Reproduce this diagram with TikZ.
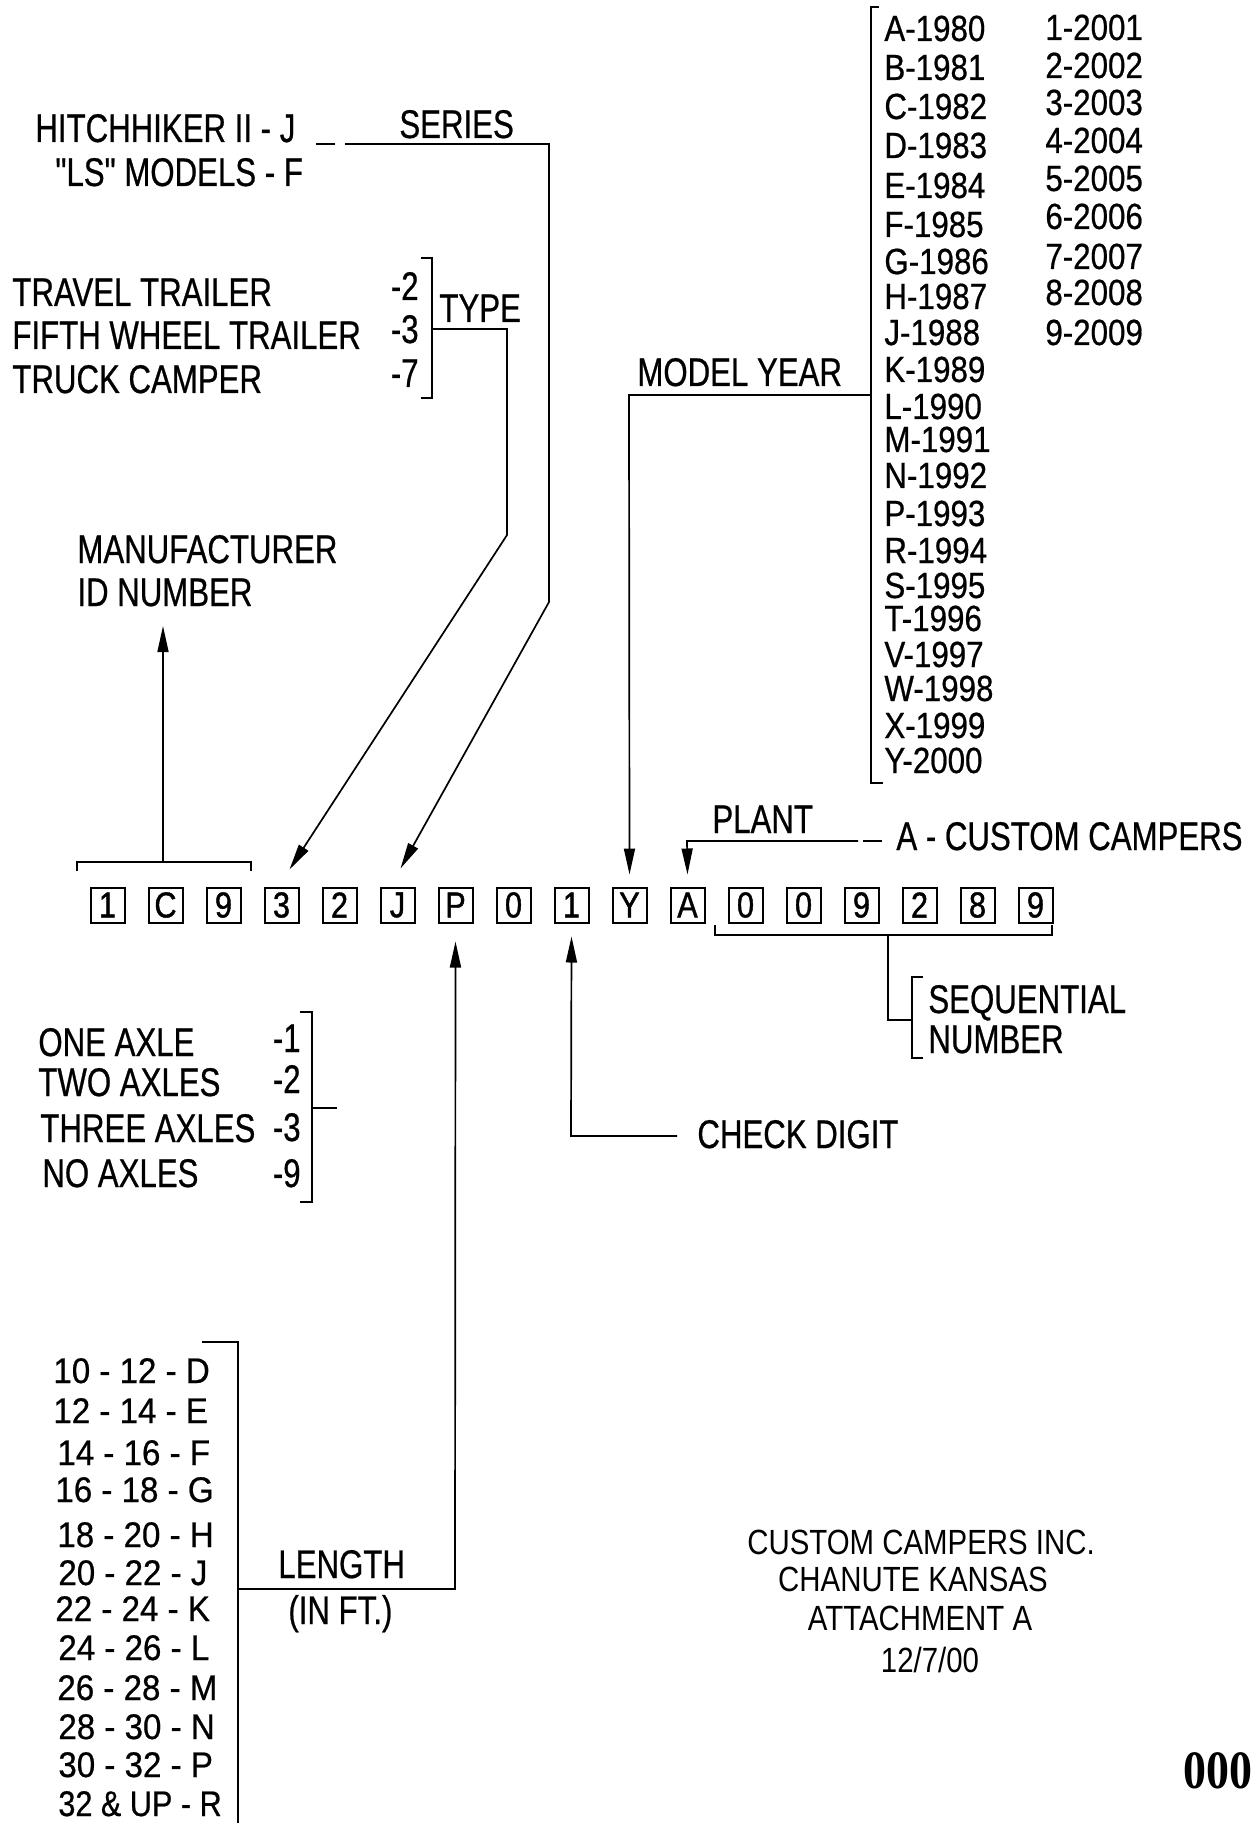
\documentclass[tikz,border=0pt]{standalone}
\usepackage{fontspec}
\setmainfont{Liberation Sans}
\newfontfamily\narrowsans{Liberation Sans}[FakeStretch=0.78,FakeBold=0.6]
\newfontfamily\yearsans{Liberation Sans}[FakeStretch=0.86,FakeBold=0.6]
\newfontfamily\lensans{Liberation Sans}[FakeStretch=0.93,FakeBold=0.6]
\newfontfamily\lensansn{Liberation Sans}[FakeStretch=0.86,FakeBold=0.6]
\newfontfamily\boxsans{Liberation Sans}[FakeStretch=0.85,FakeBold=1.2]
\newfontfamily\footsans{Liberation Sans}[FakeStretch=0.84]
\newfontfamily\stampserif{Liberation Serif}[FakeStretch=0.85]
\usetikzlibrary{arrows.meta}
\tikzset{
  lbl/.style={inner sep=0pt, anchor=base west, font=\narrowsans\fontsize{20}{22}\selectfont},
  lblr/.style={lbl, anchor=base east},
  yearlbl/.style={inner sep=0pt, anchor=base west, font=\yearsans\fontsize{18.2}{20}\selectfont},
  lenlbl/.style={inner sep=0pt, anchor=base west, font=\lensans\fontsize{17.8}{20}\selectfont},
  foot/.style={inner sep=0pt, anchor=base, font=\footsans\fontsize{17.5}{19}\selectfont},
  vinbox/.style={draw, line width=1pt, minimum width=17pt, minimum height=17.5pt, inner sep=0pt, font=\boxsans\fontsize{18}{18}\selectfont},
  conn/.style={line width=0.85pt},
  arr/.style={conn, -{Triangle[length=13pt,width=5.5pt]}},
}
\begin{document}
\begin{tikzpicture}[x=0.5pt,y=-0.5pt]
\fill[white] (0,0) rectangle (1259,1823);
\useasboundingbox (0,0) rectangle (1259,1823);

% VIN boxes
\foreach \ch [count=\i from 0] in {1,C,9,3,2,J,P,0,1,Y,A,0,0,9,2,8,9}
  \node[vinbox] (b\i) at ({107.5+58*\i},905) {\ch};

% ---- Series ----
\node[lbl] (hh) at (35,142) {HITCHHIKER II - J};
\node[lbl] (ls) at (55,186) {"LS" MODELS - F};
\node[lbl] (series) at (399,138) {SERIES};
\coordinate (sd1) at (316,144); \coordinate (sd2) at (335,144);
\draw[conn] (sd1) -- (sd2);
\coordinate (s0) at (345,144); \coordinate (s1) at (549,144); \coordinate (s2) at (549,602);
\draw[arr] (s0) -- (s1) -- (s2) -- ([xshift=1.5pt,yshift=9pt]b5.north);

% ---- Type ----
\node[lbl] (tt) at (12,306) {TRAVEL TRAILER};
\node[lbl] (fw) at (12,349) {FIFTH WHEEL TRAILER};
\node[lbl] (tc) at (12,393) {TRUCK CAMPER};
\node[lblr] (t2) at (419,300) {-2};
\node[lblr] (t3) at (419,343) {-3};
\node[lblr] (t7) at (419,387) {-7};
\node[lbl] (type) at (439,322) {TYPE};
\draw[conn] (421,258) -- (432,258) -- (432,398) -- (421,398);
\coordinate (t0) at (432,329); \coordinate (tA) at (507,329); \coordinate (tB) at (507,535);
\draw[arr] (t0) -- (tA) -- (tB) -- ([xshift=4pt,yshift=8.5pt]b3.north);

% ---- Manufacturer ----
\node[lbl] (mfr) at (77,563) {MANUFACTURER};
\node[lbl] (idn) at (77,606) {ID NUMBER};
\draw[conn] (77,871) -- (77,862) -- (251,862) -- (251,871);
\coordinate (m0) at (163,862); \coordinate (mtip) at (163,626);
\draw[arr] (m0) -- (mtip);

% ---- Model year ----
\node[lbl] (my) at (637,386) {MODEL YEAR};
\draw[conn] (879,7) -- (871,7) -- (871,783) -- (883,783);
\coordinate (my0) at (871,395); \coordinate (my1) at (629,395);
\draw[arr] (my0) -- (my1) -- ([yshift=6pt]b9.north);
\foreach \t/\yy in {A-1980/41, B-1981/80, C-1982/119, D-1983/158, E-1984/198,
  F-1985/237, G-1986/274, H-1987/309, J-1988/345, K-1989/382, L-1990/419,
  M-1991/452, N-1992/488, P-1993/526, R-1994/563, S-1995/598, T-1996/631,
  V-1997/667, W-1998/701, X-1999/738, Y-2000/773}
  \node[yearlbl] at (884,\yy) {\t};
\foreach \t/\yy in {1-2001/40, 2-2002/78, 3-2003/115, 4-2004/153, 5-2005/191,
  6-2006/229, 7-2007/269, 8-2008/305, 9-2009/345}
  \node[yearlbl] at (1045,\yy) {\t};

% ---- Plant ----
\node[lbl] (plant) at (712,833) {PLANT};
\node[lbl] (acc) at (896,850) {A - CUSTOM CAMPERS};
\coordinate (p0) at (858,841); \coordinate (p1) at (687,841);
\draw[arr] (p0) -- (p1) -- ([yshift=6pt]b10.north);
\draw[conn] (863,841) -- (882,841);

% ---- Sequential ----
\draw[conn] (715,925) -- (715,935) -- (1052,935) -- (1052,925);
\coordinate (q0) at (888,935); \coordinate (q1) at (888,1020); \coordinate (q2) at (912,1020);
\draw[conn] (q0) -- (q1) -- (q2);
\draw[conn] (923,977) -- (912,977) -- (912,1058) -- (923,1058);
\node[lbl] (seq) at (928,1013) {SEQUENTIAL};
\node[lbl] (num) at (928,1053) {NUMBER};

% ---- Check digit ----
\node[lbl] (chk) at (697,1148) {CHECK DIGIT};
\coordinate (c0) at (677,1136); \coordinate (c1) at (571,1136);
\draw[arr] (c0) -- (c1) -- ([yshift=-6.5pt]b8.south);

% ---- Axles ----
\node[lbl] at (38,1056) {ONE AXLE};
\node[lbl] at (38,1096) {TWO AXLES};
\node[lbl] at (40,1142) {THREE AXLES};
\node[lbl] at (42,1187) {NO AXLES};
\node[lblr] at (301,1052) {-1};
\node[lblr] at (301,1093) {-2};
\node[lblr] at (301,1141) {-3};
\node[lblr] at (301,1187) {-9};
\draw[conn] (300,1012) -- (312,1012) -- (312,1202) -- (300,1202);
\draw[conn] (312,1108) -- (337,1108);

% ---- Length ----
\draw[conn] (202,1342) -- (238,1342) -- (238,1830);
\coordinate (l0) at (238,1589); \coordinate (l1) at (455,1589);
\draw[arr] (l0) -- (l1) -- ([yshift=-9pt]b6.south);
\node[lbl] (len) at (278,1578) {LENGTH};
\node[lbl] (inft) at (288,1624) {(IN FT.)};
\foreach \t/\xx/\yy in {10 - 12 - D/53/1383, 12 - 14 - E/53/1423, 14 - 16 - F/57/1465,
  16 - 18 - G/55/1502, 18 - 20 - H/57/1547, 20 - 22 - J/58/1585, 22 - 24 - K/55/1621,
  24 - 26 - L/58/1660, 26 - 28 - M/57/1700, 28 - 30 - N/58/1739, 30 - 32 - P/58/1777}
  \node[lenlbl] at (\xx,\yy) {\t};
\node[lenlbl, font=\lensansn\fontsize{17.8}{20}\selectfont] at (58,1816) {32 \& UP - R};

% ---- Footer ----
\node[foot] at (921,1554) {CUSTOM CAMPERS INC.};
\node[foot] at (913,1591) {CHANUTE KANSAS};
\node[foot] at (920,1630) {ATTACHMENT A};
\node[foot] at (930,1672) {12/7/00};
\node[inner sep=0pt, anchor=base west, font=\stampserif\bfseries\fontsize{27}{28}\selectfont] at (1183,1788) {000};
\end{tikzpicture}
\end{document}
